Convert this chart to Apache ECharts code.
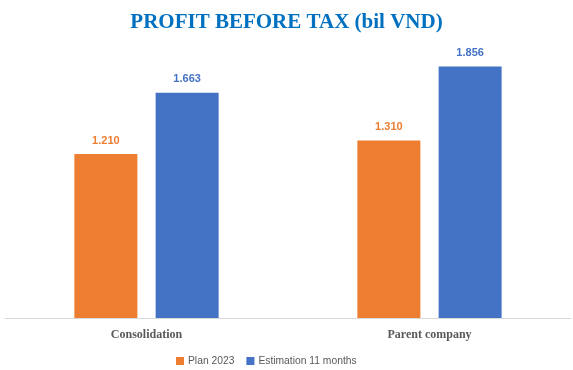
<!DOCTYPE html>
<html>
<head>
<meta charset="utf-8">
<script src="https://cdn.jsdelivr.net/npm/echarts@6/dist/echarts.min.js"></script>
<style>
html,body{margin:0;padding:0;background:#fff;}
#c{width:573px;height:370px;}
</style>
</head>
<body>
<div id="c"></div>
<script>
var categories = ['Consolidation', 'Parent company'];
var seriesNames = ['Plan 2023', 'Estimation 11 months'];
var plan2023 = [1210, 1310];
var estimation11 = [1663, 1856];

function fmt(v){
  return String(v).replace(/\B(?=(\d{3})+(?!\d))/g, '.');
}

var chart = echarts.init(document.getElementById('c'), null, {renderer:'canvas'});
chart.setOption({
  animation: false,
  backgroundColor: '#ffffff',
  title: {
    text: 'PROFIT BEFORE TAX (bil VND)',
    left: 'center',
    top: 7,
    textStyle: {
      fontFamily: 'Liberation Serif',
      fontWeight: 'bold',
      fontSize: 21,
      color: '#0070C0'
    }
  },
  legend: {
    left: 171,
    top: 351,
    itemWidth: 8,
    itemHeight: 8,
    itemGap: 12,
    icon: 'rect',
    textStyle: {
      fontFamily: 'Liberation Sans',
      fontSize: 10.3,
      color: '#595959',
      padding: [0,0,0,-1]
    },
    data: seriesNames
  },
  grid: {
    left: 5,
    right: 2,
    top: 47,
    bottom: 52,
    containLabel: false
  },
  xAxis: {
    type: 'category',
    data: categories,
    axisLine: {lineStyle: {color: '#D9D9D9', width: 1}},
    axisTick: {show: false},
    axisLabel: {
      margin: 11,
      fontFamily: 'Liberation Serif',
      fontWeight: 'bold',
      fontSize: 12,
      color: '#595959'
    }
  },
  yAxis: {
    type: 'value',
    min: 0,
    max: 2000,
    show: false,
    splitLine: {show: false}
  },
  series: [
    {
      name: seriesNames[0],
      type: 'bar',
      data: plan2023,
      barWidth: 63,
      barGap: '29%',
      itemStyle: {color: '#ED7D31'},
      label: {
        show: true,
        position: 'top',
        distance: 8,
        formatter: function(p){ return fmt(p.value); },
        fontFamily: 'Liberation Sans',
        fontWeight: 'bold',
        fontSize: 11,
        color: '#ED7D31'
      }
    },
    {
      name: seriesNames[1],
      type: 'bar',
      data: estimation11,
      barWidth: 63,
      barGap: '29%',
      itemStyle: {color: '#4472C4'},
      label: {
        show: true,
        position: 'top',
        distance: 8,
        formatter: function(p){ return fmt(p.value); },
        fontFamily: 'Liberation Sans',
        fontWeight: 'bold',
        fontSize: 11,
        color: '#4472C4'
      }
    }
  ]
});
</script>
</body>
</html>
